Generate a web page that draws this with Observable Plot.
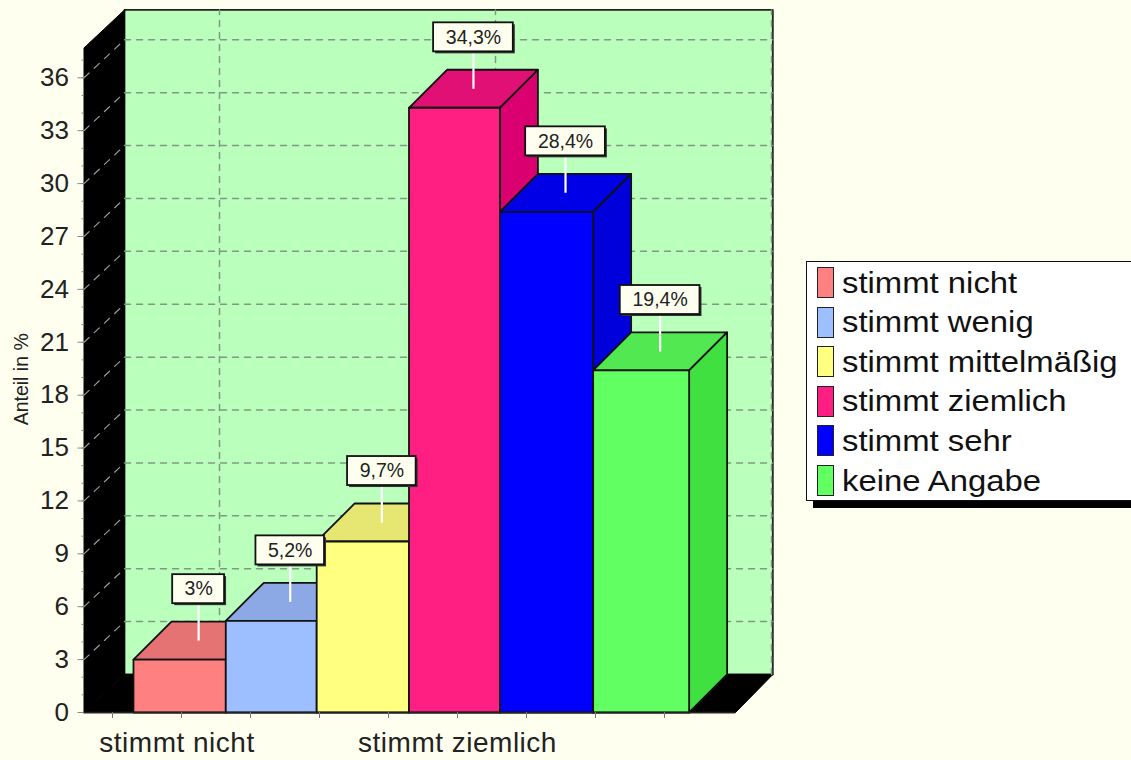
<!DOCTYPE html>
<html>
<head>
<meta charset="utf-8">
<script src="https://cdn.jsdelivr.net/npm/d3@7"></script>
<script src="https://cdn.jsdelivr.net/npm/@observablehq/plot@0.6"></script>
<style>
html,body{margin:0;padding:0;background:#FFFFF0;overflow:hidden;width:1131px;height:760px}
#chart{position:absolute;left:0;top:0}
#chart svg{background:transparent;font-family:"Liberation Sans",Arial,sans-serif}
#legend{position:absolute;left:806px;top:261px;width:340px;height:238px;background:#fff;border:1.5px solid #111;box-shadow:7px 7px 0 #000;font-family:"Liberation Sans",Arial,sans-serif}
.row{position:absolute;left:10px;height:31px;display:flex;align-items:center}
.sw{box-sizing:border-box;width:17px;height:31px;border:1.5px solid #222;flex:none}
.lb{margin-left:8px;font-size:30px;color:#111;white-space:nowrap;transform:scaleX(1.095);transform-origin:left center}
</style>
</head>
<body>
<div id="chart"></div>
<div id="legend"></div>
<script>
const categories = ["stimmt nicht","stimmt wenig","stimmt mittelmäßig","stimmt ziemlich","stimmt sehr","keine Angabe"];
const values = [3, 5.2, 9.7, 34.3, 28.4, 19.4];
const valueLabels = ["3%","5,2%","9,7%","34,3%","28,4%","19,4%"];
const frontColors = ["#FF8080","#9DBEFF","#FFFF80","#FF1E82","#0000FF","#62FF62"];
const topColors = ["#E67373","#8CA9E6","#E6E673","#E01074","#0000E6","#52E852"];
const sideColors = ["#E66060","#7C98D8","#D8D860","#DB006F","#0000DB","#40E040"];
const yTicks = d3.range(0,37,3);
const yMinor = d3.range(0,38,1);
const xTicks = d3.range(1,10);
const xLabelText = ["stimmt nicht","stimmt ziemlich"];
const xLabelPos = [1.935,6];
const gridX = [2,6,10];
const legendColors = frontColors;

// layout in scale units (x: axis-tick units, y: percent)
const depthX = 38/69, depthY = 38/17.63;
const barStart = 1.304, barW = 1.3377;
const edges = [0,1,1.985,2.985,3.97,4.98,6.02].map(k => barStart + k*barW);
const axisL = 0.587, axisR = 10.03, wallL = 1.174, wallR = 10.57, wallTop = 39.85;
const axisTop = wallTop - depthY;

const poly = (face, fill, pts) => pts.map(([x,y]) => ({face, fill, x, y}));

const walls = [
  ...poly("left","#000",[[axisL,0],[axisL,axisTop],[wallL,wallTop],[wallL,depthY]]),
  ...poly("floor","#000",[[axisL,0],[wallL,depthY],[wallR,depthY],[axisR,0]])
];
const back = poly("back","#BAFFBC",[[wallL,depthY],[wallL,wallTop],[wallR,wallTop],[wallR,depthY]]);

const hGrid = yTicks.filter(v => v>0).flatMap(v => [
  {g:v,x:wallL,y:v+depthY},{g:v,x:wallR,y:v+depthY}]);
const dGrid = yTicks.filter(v => v>0).flatMap(v => [
  {g:v,x:axisL,y:v},{g:v,x:wallL,y:v+depthY}]);
const vGrid = gridX.flatMap(k => [
  {g:k,x:k+depthX,y:depthY},{g:k,x:k+depthX,y:wallTop}]);

const faces = values.flatMap((v,i) => {
  const a = edges[i], b = edges[i+1], f = "b"+i;
  return [
    ...poly(f+"top",topColors[i],[[a,v],[a+depthX,v+depthY],[b+depthX,v+depthY],[b,v]]),
    ...poly(f+"side",sideColors[i],[[b,0],[b,v],[b+depthX,v+depthY],[b+depthX,depthY]]),
    ...poly(f+"front",frontColors[i],[[a,0],[a,v],[b,v],[b,0]])
  ];
});

const emWidth = s => [...s].reduce((w,c) => w + (c==="%"?0.889:c===","?0.278:0.556),0);
const labels = values.map((v,i) => {
  const cx = (edges[i]+edges[i+1])/2 + depthX/2;
  const hw = (emWidth(valueLabels[i])*20+23)/2/69;
  const y0 = v + depthY*0.5;
  const y1 = v + depthY*1.5 - 0.06;
  return {text:valueLabels[i],cx,x1:cx-hw,x2:cx+hw,y0,y1,y2:y1+29/17.63};
});

const plot = Plot.plot({
  width:1131, height:760,
  marginTop:0, marginRight:0, marginBottom:48, marginLeft:83.5,
  style:{background:"transparent"},
  x:{domain:[1,9],range:[112,664],axis:null},
  y:{domain:[0,36],range:[712,77.3],axis:null},
  color:{type:"identity"},
  marks:[
    Plot.line(back,{x:"x",y:"y",z:"face",fill:"fill",stroke:"#222",strokeWidth:1.8,curve:"linear-closed"}),
    Plot.line(walls,{x:"x",y:"y",z:"face",fill:"fill",stroke:"#000",strokeWidth:1,curve:"linear-closed"}),
    Plot.line(hGrid,{x:"x",y:"y",z:"g",stroke:"#7F9A80",strokeWidth:1.5,strokeDasharray:"6,6"}),
    Plot.line(vGrid,{x:"x",y:"y",z:"g",stroke:"#7F9A80",strokeWidth:1.5,strokeDasharray:"6,6"}),
    Plot.line(dGrid,{x:"x",y:"y",z:"g",stroke:"#999",strokeWidth:1.2,strokeDasharray:"7,7"}),
    Plot.line(faces,{x:"x",y:"y",z:"face",fill:"fill",stroke:"#111",strokeWidth:1.8,curve:"linear-closed"}),
    Plot.ruleY([0],{x1:axisL,x2:axisR,stroke:"#222",strokeWidth:1.5}),
    Plot.axisY({ticks:yMinor,tickSize:2,tickFormat:()=>"",stroke:"#888",label:null}),
    Plot.axisY({ticks:yTicks,tickSize:6,tickPadding:9,fontSize:26,stroke:"#888",fill:"#222",label:null}),
    Plot.axisX({ticks:xTicks,tickSize:6,tickFormat:()=>"",stroke:"#777",label:null}),
    Plot.text(xLabelText,{x:(d,i)=>xLabelPos[i],y:-1.72,fontSize:28,fill:"#222",style:{letterSpacing:"0.5px"}}),
    Plot.text(["Anteil in %"],{x:-0.32,y:18.9,rotate:-90,fontSize:19.5,fill:"#222"}),
    Plot.link(labels,{x1:"cx",x2:"cx",y1:"y0",y2:"y1",stroke:"#fff",strokeWidth:2.2}),
    Plot.rect(labels,{x1:"x1",x2:"x2",y1:"y1",y2:"y2",fill:"#333",dx:2,dy:2}),
    Plot.rect(labels,{x1:"x1",x2:"x2",y1:"y1",y2:"y2",fill:"#FFFFF0",stroke:"#111",strokeWidth:1.8}),
    Plot.text(labels,{x:"cx",y:d=>(d.y1+d.y2)/2,text:"text",fontSize:19.5,fill:"#222"})
  ]
});
document.getElementById("chart").append(plot);
plot.querySelectorAll("text").forEach(t => {
  if (xLabelText.includes(t.textContent)) t.setAttribute("letter-spacing","0.5");
});

const legend = document.getElementById("legend");
categories.forEach((c,i) => {
  const r = document.createElement("div");
  r.className = "row";
  r.style.top = (5 + i*39.6) + "px";
  const s = document.createElement("div");
  s.className = "sw"; s.style.background = legendColors[i];
  const t = document.createElement("div");
  t.className = "lb"; t.textContent = c;
  r.append(s,t);
  legend.append(r);
});
</script>
</body>
</html>
